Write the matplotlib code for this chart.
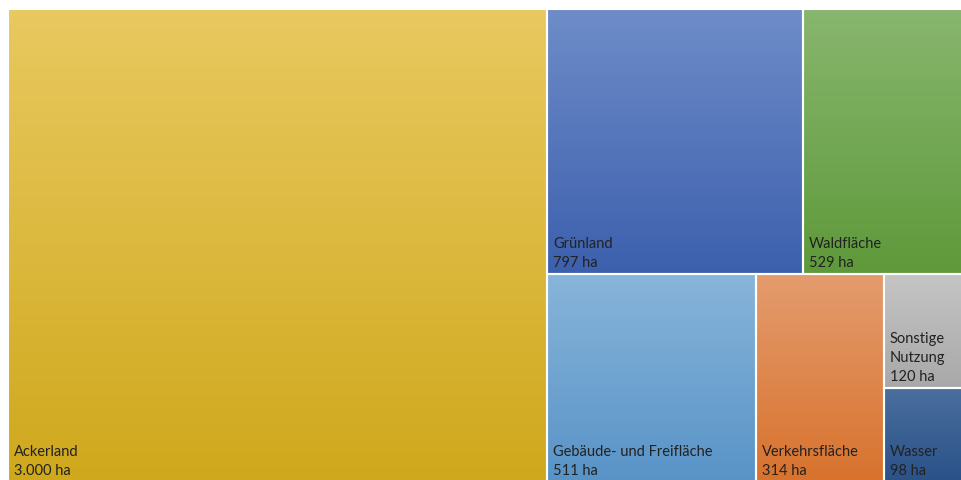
import numpy as np
import matplotlib.pyplot as plt
from matplotlib.colors import LinearSegmentedColormap
from matplotlib.patches import Rectangle

# Flächennutzung (ha)
labels = ['Ackerland', 'Grünland', 'Waldfläche', 'Gebäude- und Freifläche',
          'Verkehrsfläche', 'Sonstige\nNutzung', 'Wasser']
values = [3000, 797, 529, 511, 314, 120, 98]
top_colors = ['#E9C960', '#6E8CC8', '#88B66E', '#88B5DA', '#E49C6E', '#C5C5C5', '#4A6E9E']
bottom_colors = ['#CFA81C', '#3D60AE', '#5E993A', '#5893C7', '#D8722D', '#A8A8A8', '#2A5288']


def worst(row, side):
    s = sum(row)
    return max(max(side**2 * r / s**2, s**2 / (side**2 * r)) for r in row)


def squarify(vals, x, y, w, h):
    scale = w * h / sum(vals)
    vals = [v * scale for v in vals]
    rects = []
    while vals:
        side = min(w, h)
        row = [vals[0]]
        i = 1
        while i < len(vals) and worst(row + [vals[i]], side) <= worst(row, side):
            row.append(vals[i])
            i += 1
        s = sum(row)
        if w >= h:
            cw = s / h
            yy = y
            for v in row:
                rects.append((x, yy, cw, v / cw))
                yy += v / cw
            x += cw
            w -= cw
        else:
            rh = s / w
            xx = x
            for v in row:
                rects.append((xx, y, v / rh, rh))
                xx += v / rh
            y += rh
            h -= rh
        vals = vals[i:]
    return rects


plt.rcParams['font.family'] = ['Lato', 'DejaVu Sans']
Figure = plt.figure(figsize=(9.62, 4.81), dpi=100)
Axes = Figure.add_axes([0, 0, 1, 1])
Axes.axis('off')

rects = squarify(values, 8, 10, 965, 473)
grad = np.linspace(0, 1, 256).reshape(-1, 1)

for (rx, ry, rw, rh), lab, val, c0, c1 in zip(rects, labels, values, top_colors, bottom_colors):
    cmap = LinearSegmentedColormap.from_list('g', [c0, c1])
    Axes.imshow(grad, cmap=cmap, aspect='auto', extent=(rx, rx + rw, ry + rh, ry),
                interpolation='bilinear', zorder=1)
    Axes.add_patch(Rectangle((rx, ry), rw, rh, fill=False, edgecolor='white', linewidth=1.5, zorder=2))
    text = lab + '\n' + f'{val:,} ha'.replace(',', '.')
    Axes.text(rx + 6, ry + rh - 5, text, ha='left', va='bottom', fontsize=10.5,
              color='#222222', linespacing=1.45, zorder=3)

Axes.set_xlim(0, 962)
Axes.set_ylim(481, 0)
Figure.savefig('out.png', dpi=100)
